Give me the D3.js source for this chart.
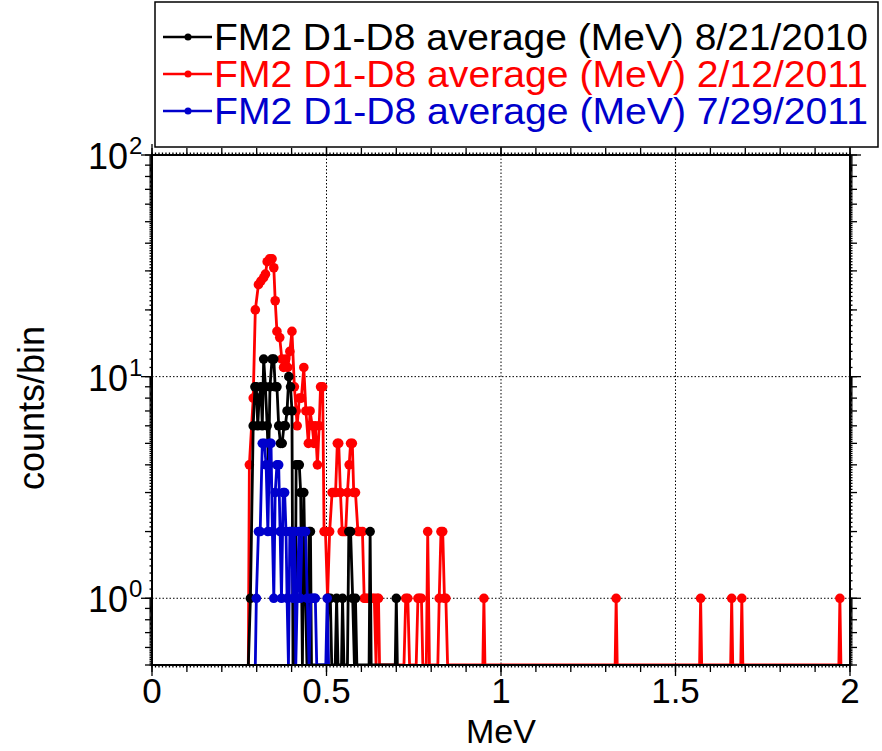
<!DOCTYPE html>
<html>
<head>
<meta charset="utf-8">
<script src="https://d3js.org/d3.v7.min.js"></script>
<style>
	body { margin: 0; background: #fff; }
	text { font-family: Arial, "Liberation Sans", sans-serif; }
</style>
</head>
<body>
<script>
	// [MeV, counts/bin]; 0 counts are drawn at the bottom of the plot
	var blackData = [[0.276,0],[0.282,1],[0.290,6],[0.295,9],[0.299,9],[0.303,6],[0.307,8],[0.312,9],[0.316,6],
		[0.320,12],[0.325,9],[0.330,6],[0.334,4],[0.338,9],[0.344,12],[0.349,12],[0.353,9],[0.358,9],[0.363,6],
		[0.368,5],[0.373,5],[0.378,6],[0.382,6],[0.387,7],[0.392,10],[0.397,9],[0.401,7],[0.404,0],[0.410,0],
		[0.413,4],[0.418,4],[0.422,4],[0.426,3],[0.431,0],[0.435,3],[0.440,1],[0.444,0],[0.448,0],[0.450,2],
		[0.454,2],[0.457,0],[0.500,0],[0.505,1],[0.511,1],[0.515,0],[0.525,0],[0.529,1],[0.533,0],[0.543,0],
		[0.546,1],[0.550,0],[0.560,0],[0.564,2],[0.569,2],[0.575,1],[0.580,0],[0.583,1],[0.587,0],[0.622,0],
		[0.625,2],[0.628,0],[0.697,0],[0.700,1],[0.703,0]];
	var redData = [[0.276,0],[0.279,4],[0.290,8],[0.296,20],[0.305,26],[0.312,27],[0.320,28],[0.325,29],[0.330,33],
		[0.337,34],[0.344,34],[0.349,31],[0.353,22],[0.358,16],[0.366,15],[0.372,12],[0.377,11],[0.383,12],
		[0.389,11],[0.395,13],[0.401,16],[0.408,9],[0.413,7],[0.416,6],[0.422,8],[0.428,8],[0.435,11],[0.441,7],
		[0.448,5],[0.453,7],[0.459,6],[0.464,5],[0.468,6],[0.474,4],[0.479,6],[0.483,9],[0.489,9],[0.493,2],
		[0.497,2],[0.503,1],[0.509,2],[0.516,3],[0.521,3],[0.526,3],[0.531,5],[0.535,5],[0.540,3],[0.545,2],
		[0.550,2],[0.555,2],[0.560,3],[0.565,4],[0.569,5],[0.574,5],[0.578,3],[0.583,3],[0.590,2],[0.595,2],
		[0.603,2],[0.608,1],[0.612,1],[0.618,1],[0.625,1],[0.632,1],[0.637,1],[0.642,0],[0.645,1],[0.649,1],
		[0.652,0],[0.722,0],[0.727,1],[0.733,1],[0.738,0],[0.757,0],[0.762,1],[0.767,1],[0.772,1],[0.776,0],
		[0.786,0],[0.790,2],[0.795,0],[0.819,0],[0.823,1],[0.828,2],[0.833,2],[0.838,1],[0.842,1],[0.847,0],
		[0.948,0],[0.951,1],[0.954,0],[1.327,0],[1.330,1],[1.333,0],[1.569,0],[1.572,1],[1.575,0],
		[1.658,0],[1.661,1],[1.664,0],[1.687,0],[1.690,1],[1.693,0],[1.968,0],[1.971,1],[1.974,0]];
	var blueData = [[0.296,0],[0.299,1],[0.305,2],[0.310,2],[0.316,5],[0.322,5],[0.327,4],[0.332,2],[0.337,5],
		[0.341,5],[0.345,2],[0.349,1],[0.353,3],[0.358,4],[0.363,4],[0.367,2],[0.371,1],[0.376,3],[0.380,3],
		[0.384,2],[0.387,1],[0.391,0],[0.395,2],[0.400,2],[0.404,1],[0.408,2],[0.412,0],[0.416,1],[0.421,2],
		[0.425,1],[0.430,2],[0.435,2],[0.440,2],[0.445,1],[0.450,0],[0.455,1],[0.460,1],[0.465,1],[0.468,1],
		[0.472,0],[0.498,0],[0.502,1],[0.506,0]];

	var seriesNames = ["FM2 D1-D8 average (MeV) 8/21/2010", "FM2 D1-D8 average (MeV) 2/12/2011", "FM2 D1-D8 average (MeV) 7/29/2011"];
	var seriesColors = ["#000000", "#ff0000", "#0000cc"];
	var xTicks = [0, 0.5, 1, 1.5, 2];
	var xTickLabels = ["0", "0.5", "1", "1.5", "2"];
	var yTicks = [1, 10, 100];
	var yTickExp = ["0", "1", "2"];

	var width = 882, height = 751;
	var pL = 152, pR = 850, pT = 155, pB = 665;

	var svg = d3.select("body").append("svg")
		.attr("width", width).attr("height", height);

	var x = d3.scaleLinear().domain([0, 2]).range([pL, pR]);
	var y = d3.scaleLog().domain([0.5, 100]).range([pB, pT]);

	// grid
	svg.selectAll(".gx").data([0.5, 1, 1.5]).enter().append("line")
		.attr("x1", d => x(d)).attr("x2", d => x(d)).attr("y1", pT).attr("y2", pB)
		.attr("stroke", "#000").attr("stroke-width", 1).attr("stroke-dasharray", "1.5,2");
	svg.selectAll(".gy").data([1, 10]).enter().append("line")
		.attr("y1", d => y(d)).attr("y2", d => y(d)).attr("x1", pL).attr("x2", pR)
		.attr("stroke", "#000").attr("stroke-width", 1).attr("stroke-dasharray", "1.5,2");

	svg.append("clipPath").attr("id", "plot").append("rect")
		.attr("x", pL).attr("y", pT).attr("width", pR - pL).attr("height", pB - pT);

	var line = d3.line()
		.x(d => x(d[0]))
		.y(d => d[1] > 0 ? y(d[1]) : pB);

	var order = [1, 0, 2];
	var all = [blackData, redData, blueData];
	var g = svg.append("g").attr("clip-path", "url(#plot)");
	order.forEach(function(k) {
		g.append("path").datum(all[k])
			.attr("d", line)
			.attr("fill", "none")
			.attr("stroke", seriesColors[k])
			.attr("stroke-width", 2.8)
			.attr("stroke-linejoin", "round");
		g.selectAll(".m" + k).data(all[k].filter(d => d[1] > 0)).enter().append("circle")
			.attr("cx", d => x(d[0])).attr("cy", d => y(d[1]))
			.attr("r", 4.8).attr("fill", seriesColors[k]);
	});

	// axes
	var xMinor = d3.range(0, 2.001, 0.1);
	var xFine = d3.range(0, 2.001, 0.01);
	var yMinor = [];
	var yFine = [];
	[0.1, 1, 10].forEach(function(dec) {
		for (var m = 1; m <= 9; m++) {
			if (dec * m >= 0.5) yMinor.push(dec * m);
			for (var f = 0; f < 10; f++) {
				var v = dec * (m + f / 10);
				if (v >= 0.5 && v <= 100) yFine.push(v);
			}
		}
	});
	yMinor.push(100);

	function tickX(vals, yy, len) {
		svg.append("g").selectAll("line").data(vals).enter().append("line")
			.attr("x1", d => x(d)).attr("x2", d => x(d))
			.attr("y1", yy).attr("y2", yy + len)
			.attr("stroke", "#000").attr("stroke-width", 1.3);
	}
	function tickY(vals, xx, len) {
		svg.append("g").selectAll("line").data(vals).enter().append("line")
			.attr("y1", d => y(d)).attr("y2", d => y(d))
			.attr("x1", xx).attr("x2", xx + len)
			.attr("stroke", "#000").attr("stroke-width", 1.3);
	}
	tickX(xFine, pB, 2.5); tickX(xFine, pT, -2.5);
	tickX(xMinor, pB, 7); tickX(xMinor, pT, -7);
	tickX(xTicks, pB, 11); tickX(xTicks, pT, -11);
	tickY(yFine, pL, -2.5); tickY(yFine, pR, 2.5);
	tickY(yMinor, pL, -7); tickY(yMinor, pR, 7);
	tickY(yTicks, pL, -11); tickY(yTicks, pR, 11);

	svg.append("rect").attr("x", pL).attr("y", pT)
		.attr("width", pR - pL).attr("height", pB - pT)
		.attr("fill", "none").attr("stroke", "#000").attr("stroke-width", 2);

	svg.selectAll(".xl").data(xTicks).enter().append("text")
		.attr("x", d => x(d)).attr("y", 703)
		.attr("text-anchor", "middle").attr("font-size", 35)
		.text((d, i) => xTickLabels[i]);

	yTicks.forEach(function(d, i) {
		svg.append("text").attr("x", 128).attr("y", y(d) + 14)
			.attr("text-anchor", "end").attr("font-size", 36).text("10");
		svg.append("text").attr("x", 129).attr("y", y(d) - 1)
			.attr("font-size", 24).text(yTickExp[i]);
	});

	svg.append("text").attr("x", (pL + pR) / 2).attr("y", 743)
		.attr("text-anchor", "middle").attr("font-size", 34).text("MeV");
	svg.append("text").attr("transform", "translate(44,408) rotate(-90)")
		.attr("text-anchor", "middle").attr("font-size", 36).text("counts/bin");

	// legend
	svg.append("rect").attr("x", 155).attr("y", 2).attr("width", 723).attr("height", 145)
		.attr("fill", "#fff").attr("stroke", "#000").attr("stroke-width", 1.5);
	var legY = [37, 74, 111];
	seriesNames.forEach(function(name, i) {
		svg.append("line").attr("x1", 163).attr("x2", 212).attr("y1", legY[i]).attr("y2", legY[i])
			.attr("stroke", seriesColors[i]).attr("stroke-width", 2.5);
		svg.append("circle").attr("cx", 188).attr("cy", legY[i]).attr("r", 3.5).attr("fill", seriesColors[i]);
		svg.append("text").attr("x", 214).attr("y", legY[i] + 13)
			.attr("font-size", 37).attr("textLength", 654).attr("lengthAdjust", "spacingAndGlyphs")
			.attr("fill", seriesColors[i]).text(name);
	});
</script>
</body>
</html>
